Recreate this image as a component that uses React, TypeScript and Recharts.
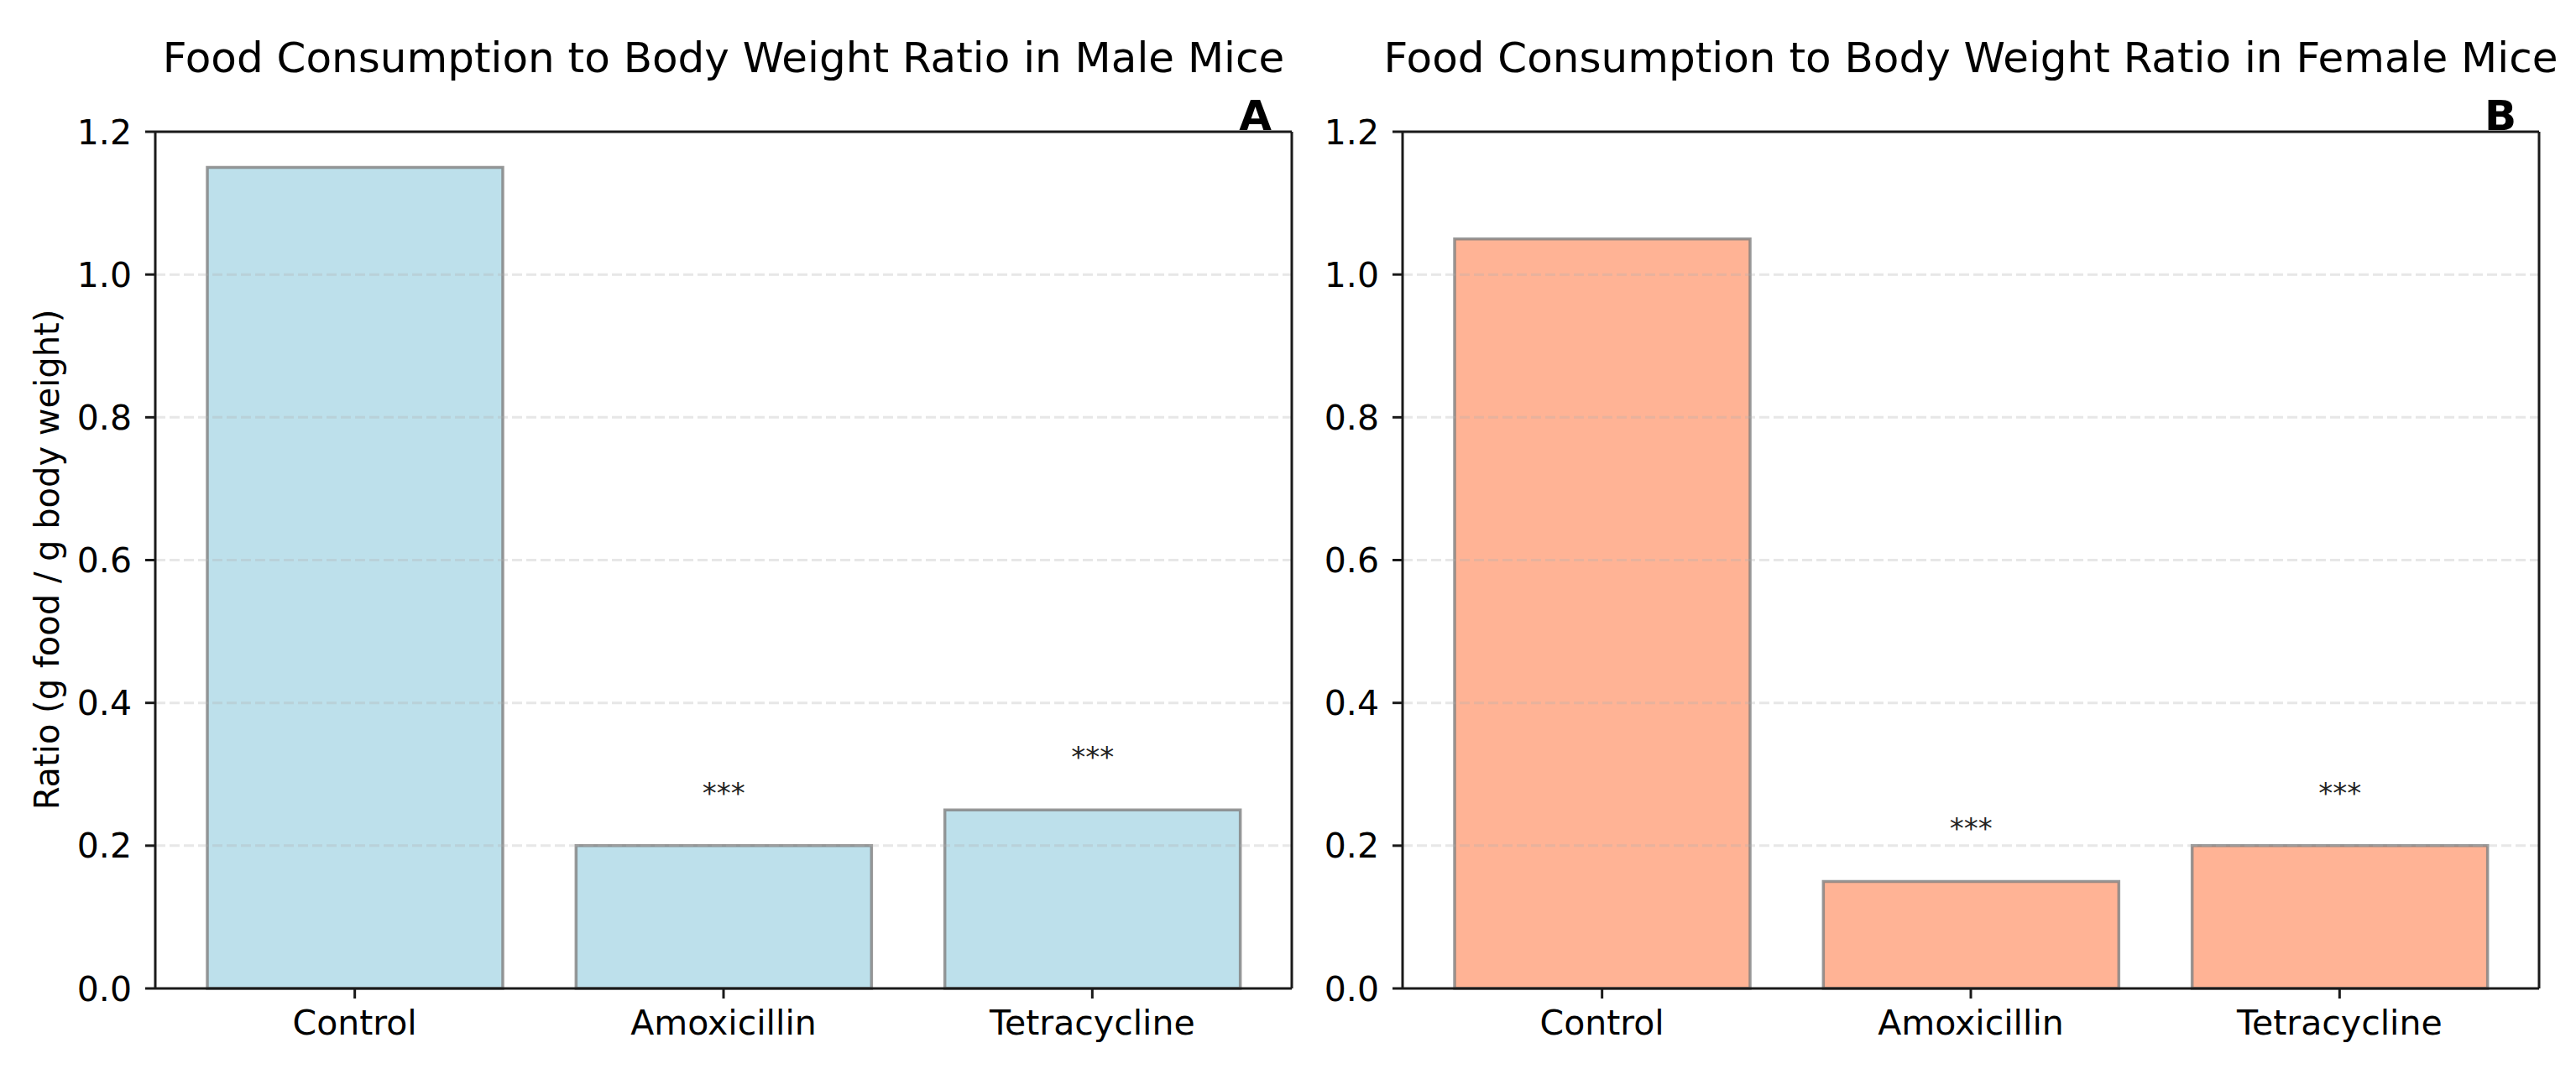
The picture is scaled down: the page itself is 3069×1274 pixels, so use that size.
import {
  Bar,
  BarChart,
  LabelList,
  ReferenceLine,
  XAxis,
  YAxis,
} from "recharts";

const categories = ["Control", "Amoxicillin", "Tetracycline"];
const maleRatio = [1.15, 0.2, 0.25];
const femaleRatio = [1.05, 0.15, 0.2];
const significance = ["", "***", "***"];
const yTicks = [0, 0.2, 0.4, 0.6, 0.8, 1.0, 1.2];
const gridLevels = [0.2, 0.4, 0.6, 0.8, 1.0];

const FONT = "DejaVu Sans, Verdana, sans-serif";
const SPINE = "#1a1a1a";

function buildRows(values: number[]) {
  return categories.map((group, i) => ({
    group,
    ratio: values[i],
    sig: significance[i],
  }));
}

function SigMark(props: any) {
  const { x, y, width, value } = props;
  if (!value) return null;
  return (
    <text
      x={Number(x) + Number(width) / 2}
      y={Number(y) - 51}
      textAnchor="middle"
      fontSize={34}
      fontFamily={FONT}
      fill="#222"
    >
      {value}
    </text>
  );
}

interface PanelProps {
  values: number[];
  fill: string;
  left: number;
  width: number;
  axisWidth: number;
  rightMargin: number;
}

function Panel({ values, fill, left, width, axisWidth, rightMargin }: PanelProps) {
  const data = buildRows(values);
  return (
    <div style={{ position: "absolute", left, top: 0 }}>
      <BarChart
        width={width}
        height={1274}
        data={data}
        margin={{ top: 156, right: rightMargin, bottom: 36, left: 0 }}
      >
        <XAxis
          dataKey="group"
          interval={0}
          padding={{ left: 18, right: 18 }}
          height={60}
          tickSize={12}
          tickMargin={14}
          axisLine={{ stroke: SPINE, strokeWidth: 3 }}
          tickLine={{ stroke: SPINE, strokeWidth: 3 }}
          tick={{ fill: "#000", fontSize: 41, fontFamily: FONT }}
        />
        <XAxis
          xAxisId="top"
          orientation="top"
          dataKey="group"
          height={1}
          tick={false}
          tickLine={false}
          axisLine={{ stroke: SPINE, strokeWidth: 3 }}
        />
        <YAxis
          width={axisWidth}
          domain={[0, 1.2]}
          ticks={yTicks}
          interval={0}
          tickSize={12}
          tickMargin={16}
          tickFormatter={(v: number) => v.toFixed(1)}
          axisLine={{ stroke: SPINE, strokeWidth: 3 }}
          tickLine={{ stroke: SPINE, strokeWidth: 3 }}
          tick={{ fill: "#000", fontSize: 41, fontFamily: FONT }}
        />
        <YAxis
          yAxisId="right"
          orientation="right"
          width={1}
          domain={[0, 1.2]}
          tick={false}
          tickLine={false}
          axisLine={{ stroke: SPINE, strokeWidth: 3 }}
        />
        <Bar
          dataKey="ratio"
          fill={fill}
          fillOpacity={0.8}
          stroke="#808080"
          strokeOpacity={0.8}
          strokeWidth={3.5}
          barSize={352}
          isAnimationActive={false}
        >
          <LabelList dataKey="sig" content={SigMark} />
        </Bar>
        {gridLevels.map((v) => (
          <ReferenceLine
            key={v}
            y={v}
            stroke="#b0b0b0"
            strokeOpacity={0.3}
            strokeWidth={3}
            strokeDasharray="12 5"
          />
        ))}
      </BarChart>
    </div>
  );
}

export default function App() {
  return (
    <div
      style={{
        position: "absolute",
        left: 0,
        top: 0,
        width: 3069,
        height: 1274,
        background: "#fff",
        fontFamily: FONT,
      }}
    >
      <Panel values={maleRatio} fill="#add8e6" left={0} width={1600} axisWidth={185} rightMargin={60} />
      <Panel values={femaleRatio} fill="#ffa07a" left={1540} width={1529} axisWidth={131} rightMargin={43} />
      <svg
        width={3069}
        height={1274}
        style={{ position: "absolute", left: 0, top: 0, pointerEvents: "none" }}
        fontFamily={FONT}
      >
        <text x={862} y={86} textAnchor="middle" fontSize={50} fill="#000">
          Food Consumption to Body Weight Ratio in Male Mice
        </text>
        <text x={2348} y={86} textAnchor="middle" fontSize={50} fill="#000">
          Food Consumption to Body Weight Ratio in Female Mice
        </text>
        <text x={1515} y={155} textAnchor="end" fontSize={50} fontWeight="bold" fill="#000">
          A
        </text>
        <text x={2998} y={155} textAnchor="end" fontSize={50} fontWeight="bold" fill="#000">
          B
        </text>
        <text
          x={70}
          y={667}
          transform="rotate(-90 70 667)"
          textAnchor="middle"
          fontSize={40}
          fill="#000"
        >
          Ratio (g food / g body weight)
        </text>
      </svg>
    </div>
  );
}
